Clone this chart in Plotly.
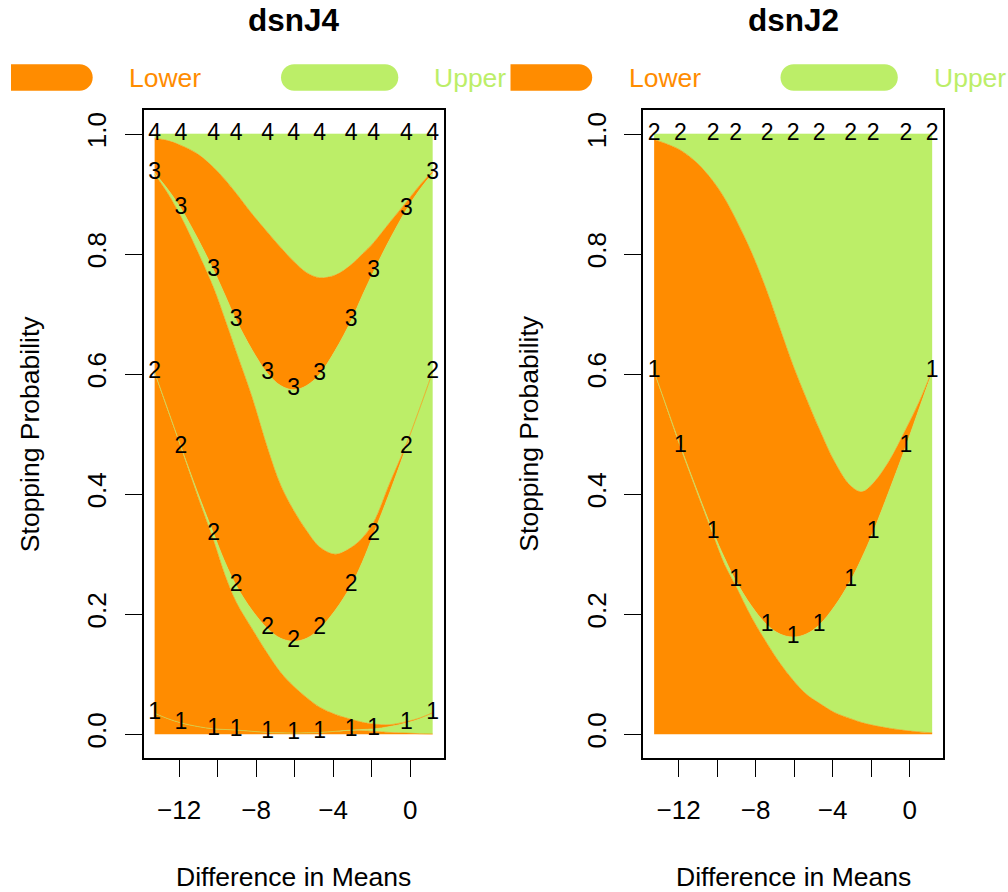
import plotly.graph_objects as go

# Effect sizes (difference in means); every second value is an evaluation point
# that carries an analysis-number label
diff_means = [-13.27, -12.585, -11.90, -11.05, -10.20, -9.615, -9.03, -8.215, -7.40, -6.725,
              -6.05, -5.375, -4.70, -3.885, -3.07, -2.485, -1.90, -1.05, -0.20, 0.485, 1.17]

# dsnJ4: cumulative stopping probability by analysis k (cum_k) and
# cum_{k-1} + probability of crossing the lower bound at analysis k (low_k)
j4_low1 = [0.035, 0.026, 0.019, 0.013, 0.009, 0.008, 0.007, 0.005, 0.003, 0.0025, 0.002,
           0.0025, 0.003, 0.005, 0.006, 0.006, 0.005, 0.003, 0.002, 0.001, 0.0005]
j4_cum1 = [0.035, 0.026, 0.019, 0.013, 0.009, 0.008, 0.007, 0.005, 0.003, 0.0025, 0.002,
           0.0025, 0.003, 0.005, 0.007, 0.008, 0.009, 0.013, 0.019, 0.026, 0.035]
j4_low2 = [0.602, 0.539, 0.477, 0.398, 0.322, 0.265, 0.220, 0.176, 0.134, 0.103, 0.080,
           0.061, 0.045, 0.033, 0.025, 0.020, 0.017, 0.016, 0.021, 0.027, 0.036]
j4_cum2 = [0.603, 0.541, 0.479, 0.404, 0.334, 0.287, 0.248, 0.207, 0.176, 0.160, 0.155,
           0.160, 0.176, 0.207, 0.248, 0.287, 0.334, 0.404, 0.479, 0.541, 0.603]
j4_low3 = [0.933, 0.901, 0.862, 0.805, 0.743, 0.691, 0.637, 0.562, 0.476, 0.415, 0.373,
           0.339, 0.312, 0.300, 0.311, 0.327, 0.353, 0.419, 0.483, 0.542, 0.604]
j4_cum3 = [0.935, 0.908, 0.876, 0.827, 0.773, 0.732, 0.690, 0.641, 0.601, 0.581, 0.574,
           0.581, 0.600, 0.640, 0.689, 0.731, 0.771, 0.825, 0.874, 0.907, 0.935]
j4_low4 = [0.993, 0.989, 0.981, 0.967, 0.944, 0.924, 0.901, 0.867, 0.836, 0.811, 0.788,
           0.769, 0.7605, 0.765, 0.782, 0.800, 0.819, 0.853, 0.8865, 0.914, 0.938]
j4_cum4 = [1.0] * 21

# dsnJ2: same quantities for the two-analysis design
j2_low1 = [0.603, 0.540, 0.477, 0.403, 0.331, 0.283, 0.247, 0.195, 0.151, 0.118, 0.090,
           0.067, 0.052, 0.036, 0.026, 0.0195, 0.015, 0.010, 0.0062, 0.004, 0.0025]
j2_cum1 = [0.604, 0.542, 0.480, 0.407, 0.337, 0.294, 0.256, 0.214, 0.182, 0.167, 0.162,
           0.167, 0.182, 0.214, 0.256, 0.294, 0.337, 0.407, 0.480, 0.542, 0.604]
j2_low2 = [0.991, 0.983, 0.973, 0.952, 0.921, 0.893, 0.858, 0.803, 0.737, 0.675, 0.614,
           0.560, 0.509, 0.453, 0.414, 0.404, 0.418, 0.456, 0.508, 0.553, 0.606]
j2_cum2 = [1.0] * 21

panel_titles = ["dsnJ4", "dsnJ2"]
x_tick_vals = [-12, -10, -8, -6, -4, -2, 0]
x_tick_text = ["\u221212", "", "\u22128", "", "\u22124", "", "0"]
y_tick_vals = [0.0, 0.2, 0.4, 0.6, 0.8, 1.0]
y_tick_text = ["0.0", "0.2", "0.4", "0.6", "0.8", "1.0"]

LOWER = "#FF8C00"
UPPER = "#BCEE68"
FONT = "Liberation Sans, Arial, Helvetica, sans-serif"
W, H = 1008, 892

panels = [
    [(j4_low1, j4_cum1), (j4_low2, j4_cum2), (j4_low3, j4_cum3), (j4_low4, j4_cum4)],
    [(j2_low1, j2_cum1), (j2_low2, j2_cum2)],
]

fig = go.Figure()

for p, bands in enumerate(panels):
    xa = "x" if p == 0 else "x2"
    ya = "y" if p == 0 else "y2"
    first = True
    for low, cum in bands:
        # orange: lower-bound crossing, green: upper-bound crossing
        for yv, col in ((low, LOWER), (cum, UPPER)):
            fig.add_trace(go.Scatter(
                x=diff_means, y=yv, xaxis=xa, yaxis=ya,
                mode="lines", line=dict(color=col, width=0.6, shape="spline"),
                fill="tozeroy" if first else "tonexty", fillcolor=col,
                hoverinfo="skip",
            ))
            first = False
    # analysis numbers along each cumulative curve, at the evaluation points
    for k, (low, cum) in enumerate(bands, start=1):
        fig.add_trace(go.Scatter(
            x=diff_means[::2], y=cum[::2], xaxis=xa, yaxis=ya,
            mode="text", text=[str(k)] * len(cum[::2]),
            textposition="middle center",
            textfont=dict(family=FONT, size=23, color="black"),
            cliponaxis=False, hoverinfo="skip",
        ))

# panel geometry in pixels
panel_dx = 499.5
box_x0, box_x1 = 143.5, 443.8
box_y0, box_y1 = 110.0, 758.3


def axis_common():
    return dict(
        showline=True, linecolor="black", linewidth=1.5, mirror=True,
        ticks="outside", ticklen=17, tickwidth=1.3, tickcolor="black",
        showgrid=False, zeroline=False, fixedrange=True,
        tickfont=dict(family=FONT, size=26, color="black"),
    )


layout = dict(
    width=W, height=H, margin=dict(l=0, r=0, t=0, b=0),
    paper_bgcolor="white", plot_bgcolor="white", showlegend=False,
)
for p in range(2):
    sx = "" if p == 0 else "2"
    off = p * panel_dx
    layout["xaxis" + sx] = dict(
        axis_common(), domain=[(box_x0 + off) / W, (box_x1 + off) / W],
        range=[-13.848, 1.748], tickvals=x_tick_vals, ticktext=x_tick_text,
        anchor="y" + sx, ticklabelstandoff=11,
    )
    layout["yaxis" + sx] = dict(
        axis_common(), domain=[1 - box_y1 / H, 1 - box_y0 / H],
        range=[-0.04, 1.04], tickvals=y_tick_vals, ticktext=y_tick_text,
        tickangle=-90, anchor="x" + sx, ticklabelstandoff=8,
    )
fig.update_layout(**layout)


def P(x, y):
    return x / W, 1 - y / H


def bar_path(x0, x1, yc, h, round_left, round_right):
    """Legend key: a thick bar with optional semicircular ends (pixel input)."""
    r = h / 2.0
    k = 0.5523 * r
    top, bot = yc - r, yc + r
    cx0 = x0 + r if round_left else x0
    cx1 = x1 - r if round_right else x1

    def f(x, y):
        a, b = P(x, y)
        return f"{a:.5f},{b:.5f}"

    s = "M " + f(cx0, top) + " L " + f(cx1, top)
    if round_right:
        s += " C " + f(cx1 + k, top) + " " + f(x1, yc - k) + " " + f(x1, yc)
        s += " C " + f(x1, yc + k) + " " + f(cx1 + k, bot) + " " + f(cx1, bot)
    else:
        s += " L " + f(x1, bot)
    s += " L " + f(cx0, bot)
    if round_left:
        s += " C " + f(cx0 - k, bot) + " " + f(x0, yc + k) + " " + f(x0, yc)
        s += " C " + f(x0, yc - k) + " " + f(cx0 - k, top) + " " + f(cx0, top)
    else:
        s += " L " + f(x0, top)
    return s + " Z"


shapes = []
annotations = []
leg_y, leg_h = 77.5, 26.4
for p in range(2):
    off = p * panel_dx
    shapes.append(dict(type="path", xref="paper", yref="paper",
                       path=bar_path(11 + off, 92.7 + off, leg_y, leg_h, False, True),
                       fillcolor=LOWER, line=dict(width=0), layer="above"))
    shapes.append(dict(type="path", xref="paper", yref="paper",
                       path=bar_path(281 + off, 398.3 + off, leg_y, leg_h, True, True),
                       fillcolor=UPPER, line=dict(width=0), layer="above"))
    for txt, xl, col in (("Lower", 127, LOWER), ("Upper", 432, UPPER)):
        ax, ay = P(xl + off, leg_y)
        annotations.append(dict(text=txt, x=ax, y=ay, xref="paper", yref="paper",
                                xanchor="left", yanchor="middle", showarrow=False,
                                font=dict(family=FONT, size=26.5, color=col)))
    cx = (box_x0 + box_x1) / 2 + off
    ax, ay = P(cx, 20)
    annotations.append(dict(text="<b>" + panel_titles[p] + "</b>", x=ax, y=ay,
                            xref="paper", yref="paper", xanchor="center", yanchor="middle",
                            showarrow=False, font=dict(family=FONT, size=31.5, color="black")))
    ax, ay = P(cx, 877)
    annotations.append(dict(text="Difference in Means", x=ax, y=ay,
                            xref="paper", yref="paper", xanchor="center", yanchor="middle",
                            showarrow=False, font=dict(family=FONT, size=26.5, color="black")))
    ax, ay = P(30 + off, (box_y0 + box_y1) / 2)
    annotations.append(dict(text="Stopping Probability", x=ax, y=ay, textangle=-90,
                            xref="paper", yref="paper", xanchor="center", yanchor="middle",
                            showarrow=False, font=dict(family=FONT, size=26.5, color="black")))

fig.update_layout(shapes=shapes, annotations=annotations)
fig.write_html("out.html")
